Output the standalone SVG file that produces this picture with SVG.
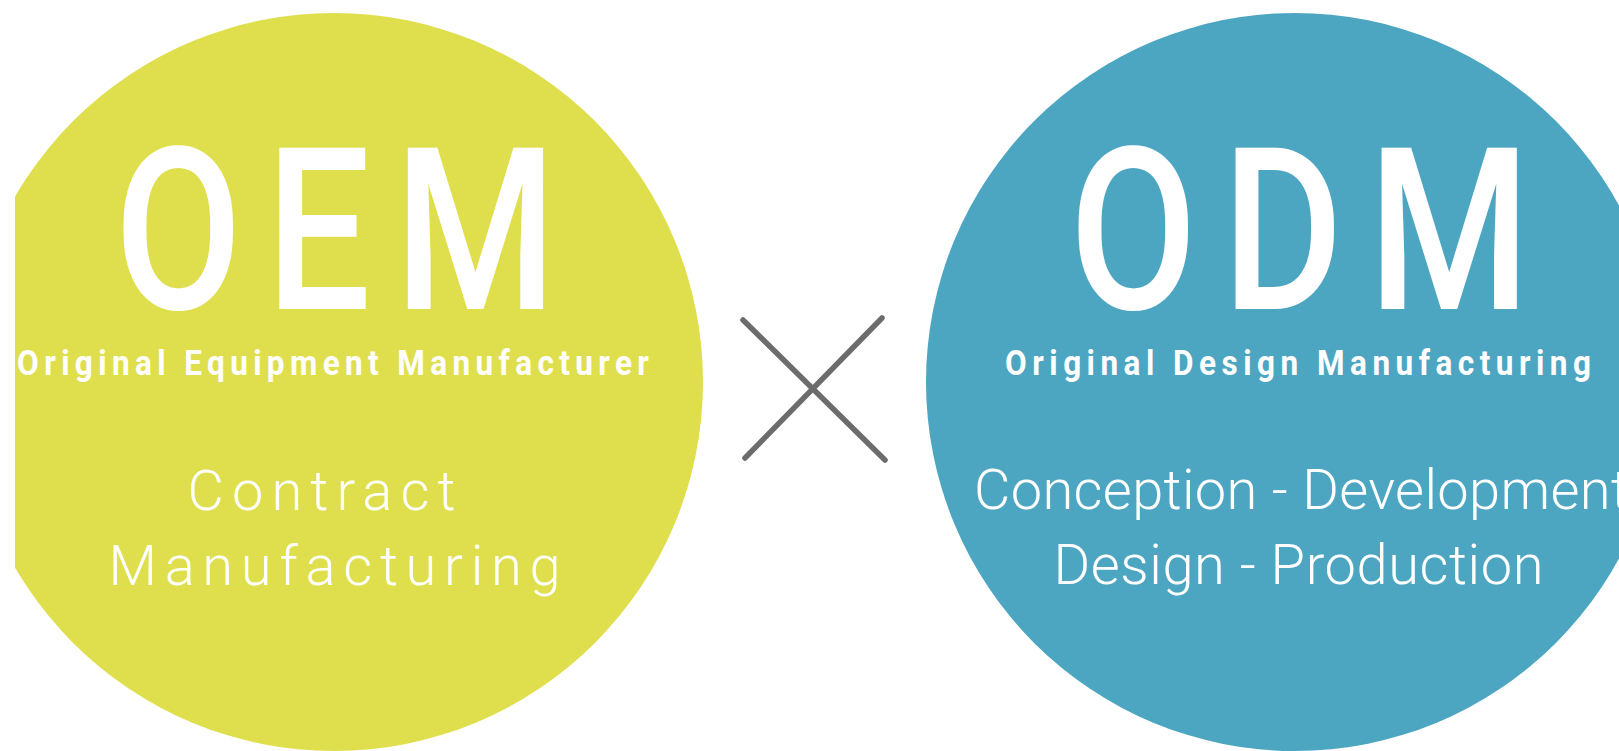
<svg xmlns="http://www.w3.org/2000/svg" width="1619" height="751" viewBox="0 0 1619 751">
<defs>
<style>
.big{font-family:Roboto,"DejaVu Sans",sans-serif;font-weight:500;font-size:226px;fill:#ffffff}
.sub{font-family:Roboto,"DejaVu Sans",sans-serif;font-weight:700;font-size:35px;fill:#ffffff}
.desc{font-family:Roboto,"Liberation Sans",sans-serif;font-weight:300;font-size:56px;fill:#ffffff}
.times{stroke:#6c6c6c;stroke-width:5.5;stroke-linecap:round;fill:none}
</style>
<clipPath id="clipL"><rect x="15" y="0" width="1604" height="751"/></clipPath>
</defs>
<rect width="1619" height="751" fill="#ffffff"/>
<g id="node-oem">
<circle cx="334" cy="382" r="369" fill="#DFDF4E" clip-path="url(#clipL)"/>
<text class="big" transform="translate(335.5,309) scale(0.82,1)" text-anchor="middle" textLength="539" lengthAdjust="spacing">OEM</text>
<text class="sub" transform="translate(333,375) scale(0.9,1)" text-anchor="middle" textLength="702" lengthAdjust="spacing">Original Equipment Manufacturer</text>
<text class="desc" x="321.5" y="510" text-anchor="middle" textLength="268" lengthAdjust="spacing">Contract</text>
<text class="desc" x="334.5" y="585" text-anchor="middle" textLength="452" lengthAdjust="spacing">Manufacturing</text>
</g>
<g id="operator">
<line class="times" x1="743" y1="320" x2="885" y2="460"/>
<line class="times" x1="882" y1="318" x2="745" y2="458"/>
</g>
<g id="node-odm">
<circle cx="1295" cy="382" r="369" fill="#4CA6C1"/>
<text class="big" transform="translate(1300,309) scale(0.82,1)" text-anchor="middle" textLength="562" lengthAdjust="spacing">ODM</text>
<text class="sub" transform="translate(1298,375) scale(0.9,1)" text-anchor="middle" textLength="651" lengthAdjust="spacing">Original Design Manufacturing</text>
<text class="desc" x="1301.5" y="509" text-anchor="middle" textLength="655" lengthAdjust="spacing">Conception - Development</text>
<text class="desc" x="1298.5" y="584" text-anchor="middle" textLength="490" lengthAdjust="spacing">Design - Production</text>
</g>
</svg>
